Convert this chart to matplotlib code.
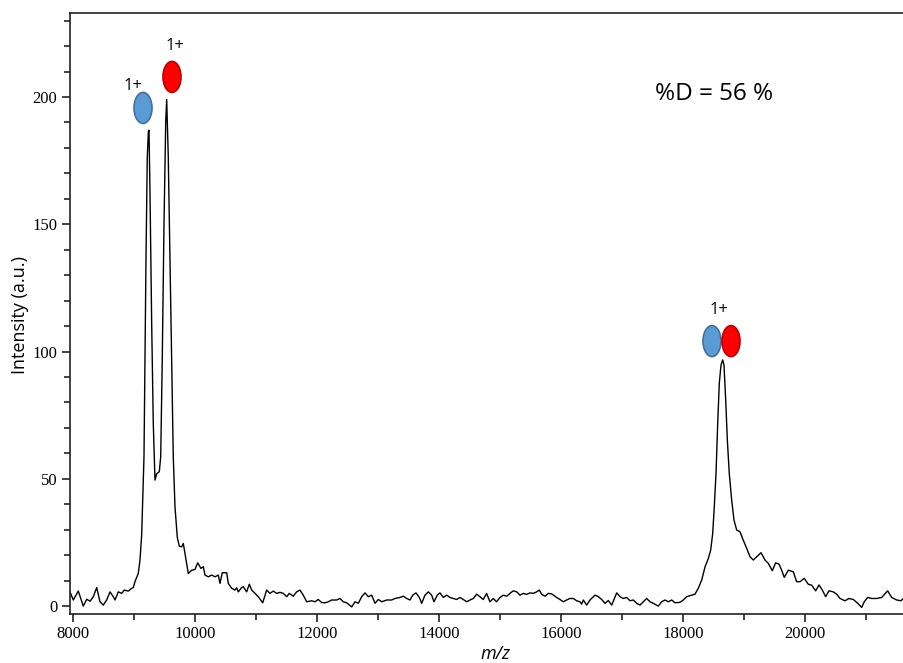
import matplotlib
matplotlib.use("Agg")
import matplotlib.pyplot as plt
from matplotlib.patches import Ellipse
from matplotlib.ticker import MultipleLocator

# ---- data ----
mz = [7951, 8005, 8087, 8169, 8225, 8279, 8333, 8389, 8443, 8497, 8552, 8607, 8661, 8689,
      8743, 8798, 8841, 8907, 8962, 8989, 9016, 9070, 9098, 9126, 9164, 9180, 9197, 9218,
      9236, 9246, 9262, 9290, 9316, 9344, 9372, 9415, 9438, 9464, 9492, 9520, 9536, 9562,
      9590, 9618, 9644, 9672, 9710, 9743, 9782, 9808, 9836, 9890, 9946, 10000, 10044, 10098,
      10136, 10164, 10218, 10274, 10328, 10382, 10410, 10447, 10520, 10546, 10602, 10656,
      10684, 10710, 10766, 10792, 10847, 10890, 10930, 10984, 11038, 11110, 11175, 11230,
      11284, 11339, 11393, 11448, 11503, 11546, 11611, 11667, 11721, 11775, 11831, 11913,
      11967, 12021, 12077, 12131, 12185, 12241, 12323, 12377, 12431, 12487, 12569, 12623,
      12677, 12733, 12787, 12841, 12897, 12951, 13005, 13061, 13143, 13225, 13279, 13361,
      13415, 13470, 13525, 13569, 13623, 13678, 13716, 13770, 13825, 13880, 13918, 13972,
      14016, 14071, 14126, 14180, 14234, 14290, 14344, 14398, 14454, 14508, 14562, 14618,
      14672, 14726, 14780, 14836, 14890, 14944, 15000, 15054, 15110, 15164, 15218, 15273,
      15328, 15382, 15437, 15492, 15546, 15601, 15645, 15684, 15738, 15792, 15847, 15929,
      15983, 16038, 16093, 16147, 16202, 16257, 16311, 16339, 16366, 16421, 16475, 16557,
      16612, 16667, 16721, 16776, 16831, 16913, 16967, 17021, 17076, 17131, 17185, 17240,
      17295, 17349, 17404, 17459, 17513, 17595, 17650, 17705, 17759, 17814, 17869, 17951,
      18005, 18060, 18142, 18197, 18251, 18306, 18361, 18415, 18454, 18487, 18513, 18541,
      18569, 18595, 18623, 18651, 18672, 18700, 18727, 18759, 18798, 18836, 18880, 18934,
      18988, 19044, 19098, 19152, 19208, 19279, 19344, 19398, 19464, 19519, 19574, 19617,
      19660, 19726, 19808, 19863, 19918, 19988, 20054, 20110, 20175, 20229, 20284, 20339,
      20393, 20464, 20519, 20574, 20656, 20721, 20792, 20865, 20929, 20972, 21027, 21093,
      21175, 21257, 21355, 21421, 21503, 21573, 21628]
intensity = [5.6, 2.4, 5.9, 0.0, 2.7, 1.9, 3.7, 7.3, 1.7, 0.4, 2.4, 5.6, 3.7, 2.4,
             5.6, 5.0, 6.3, 5.9, 7.0, 7.3, 9.6, 12.8, 18.0, 28.0, 58.7, 98.0, 137.0, 176.5,
             186.4, 187.0, 163.0, 111.0, 72.0, 49.5, 52.0, 52.8, 58.7, 98.0, 150.0, 190.0, 199.0, 176.5,
             137.0, 98.0, 58.7, 39.0, 27.0, 23.5, 23.3, 24.6, 20.7, 12.8, 14.1, 14.4, 17.0, 14.8,
             15.5, 12.2, 11.5, 12.2, 11.5, 12.2, 8.9, 13.1, 13.1, 8.9, 7.0, 6.3,
             7.2, 5.6, 7.3, 7.6, 5.6, 8.6, 6.3, 5.0, 3.7, 1.3, 6.3, 5.0,
             5.9, 5.0, 5.4, 5.0, 3.7, 5.0, 3.9, 5.6, 6.3, 4.3, 1.7, 2.1,
             1.7, 2.6, 1.4, 1.3, 1.7, 2.4, 2.4, 3.0, 1.7, 1.3, -0.3, 1.7,
             1.1, 3.7, 5.2, 3.7, 4.3, 1.1, 2.6, 1.7, 2.4, 2.4, 3.0, 3.4,
             3.9, 3.0, 2.4, 4.3, 5.2, 3.4, 1.1, 4.3, 5.6, 4.3, 1.7, 4.3,
             5.2, 3.4, 4.3, 3.4, 3.0, 2.6, 3.4, 2.6, 1.7, 2.4, 3.0, 4.7,
             3.7, 2.6, 5.0, 1.7, 3.0, 1.7, 3.4, 4.3, 3.9, 5.0, 6.0, 5.6,
             4.3, 5.0, 4.6, 5.2, 5.0, 5.6, 6.3, 4.6, 3.9, 5.0, 4.8, 3.4,
             2.6, 1.7, 2.4, 3.0, 3.0, 2.1, 1.7, 0.8, 2.4, 0.4, 2.4, 4.3,
             3.7, 2.6, 1.1, 2.2, 0.4, 5.2, 3.7, 3.0, 3.4, 2.1, 2.4, 1.1,
             0.4, 1.7, 3.0, 1.7, 1.1, 0.0, 1.7, 2.4, 1.7, 2.4, 1.3, 1.5,
             2.4, 3.7, 4.3, 4.7, 7.0, 10.2, 15.4, 18.7, 22.0, 28.6, 39.0, 52.0,
             71.8, 87.5, 94.7, 96.7, 94.7, 81.0, 65.2, 52.0, 41.6, 33.8, 29.9, 29.2,
             25.9, 22.7, 19.4, 18.1, 19.4, 21.0, 18.1, 16.8, 13.9, 17.0, 16.5, 14.1,
             11.3, 14.1, 13.5, 9.6, 9.6, 10.9, 8.6, 8.2, 6.0, 8.3, 6.3, 3.7,
             6.0, 5.6, 4.7, 3.0, 2.1, 3.0, 2.6, 1.1, -0.5, 1.7, 3.4, 3.0,
             3.0, 3.4, 6.0, 3.4, 2.4, 2.1, 3.4]

x_ticks = [8000, 10000, 12000, 14000, 16000, 18000, 20000]
y_ticks = [0, 50, 100, 150, 200]

# annotation anchors (data coords)
blue_centers = [(9148, 195.7), (18475, 104.1)]
red_centers = [(9623, 207.9), (18787, 104.1)]
charge_labels = [(8984, 204.3, "1+"), (9672, 220.0, "1+"), (18590, 116.3, "1+")]
dlabel = (18508, 201.2, "%D = 56 %")

W, H = 904, 663
fig = plt.figure(figsize=(W / 100, H / 100), dpi=100)
ax = fig.add_axes([70 / W, 1 - 614 / H, (W - 70) / W, (614 - 13) / H])

ax.plot(mz, intensity, color="black", lw=1.0)
ax.set_xlim(7951, 21623)
ax.set_ylim(-3.1, 233)

ax.spines["right"].set_visible(False)
for s in ("left", "top", "bottom"):
    ax.spines[s].set_linewidth(1.2)
    ax.spines[s].set_color("#222222")

ax.set_xticks(x_ticks)
ax.set_yticks(y_ticks)
ax.xaxis.set_minor_locator(MultipleLocator(1000))
ax.yaxis.set_minor_locator(MultipleLocator(10))
ax.tick_params(which="major", direction="out", length=6, width=1.2, color="#222222")
ax.tick_params(which="minor", direction="out", length=4, width=1.2, color="#222222")
ax.tick_params(axis="both", labelsize=12, pad=3)
for lab in ax.get_xticklabels() + ax.get_yticklabels():
    lab.set_fontfamily("Liberation Serif")

ax.set_ylabel("Intensity (a.u.)", fontsize=13, family="Open Sans", va="center")
ax.yaxis.set_label_coords(-0.06, 0.4975)
ax.set_xlabel("m/z", fontsize=13, family="Open Sans", style="italic", va="center")
ax.xaxis.set_label_coords(0.5096, -0.066)

# ellipses in pixel size, positioned at data anchors
fig.canvas.draw()
ew, eh = 18 / W, 31 / H
for (cx, cy) in blue_centers:
    fx, fy = fig.transFigure.inverted().transform(ax.transData.transform((cx, cy)))
    fig.patches.append(Ellipse((fx, fy), ew, eh, transform=fig.transFigure,
                               facecolor="#5B9BD5", edgecolor="#41719C", lw=1.2))
for (cx, cy) in red_centers:
    fx, fy = fig.transFigure.inverted().transform(ax.transData.transform((cx, cy)))
    fig.patches.append(Ellipse((fx, fy), ew, eh, transform=fig.transFigure,
                               facecolor="#FF0000", edgecolor="#C00000", lw=1.2))

for (x, y, t) in charge_labels:
    ax.text(x, y, t, ha="center", va="center", fontsize=12, family="Open Sans")
ax.text(dlabel[0], dlabel[1], dlabel[2], ha="center", va="center", fontsize=17.5, family="Open Sans")

fig.savefig("out.png", dpi=100)
